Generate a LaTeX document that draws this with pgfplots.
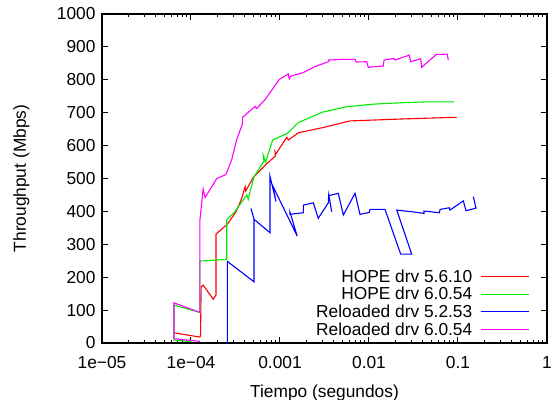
\documentclass[border=0pt]{standalone}
\usepackage{fontspec}
\setmainfont{Liberation Sans}
\usepackage{pgfplots}
\pgfplotsset{compat=1.18}
\definecolor{gred}{RGB}{255,0,0}
\definecolor{ggreen}{RGB}{0,235,0}
\definecolor{gblue}{RGB}{0,0,255}
\definecolor{gmag}{RGB}{255,0,255}
\newcommand{\gf}{\fontsize{17.4}{20}\selectfont}
\begin{document}
\begin{tikzpicture}
\begin{axis}[
  scale only axis, width=445bp, height=329bp,
  xmode=log, xmin=1e-5, xmax=1, ymin=0, ymax=1000,
  xtick={1e-5,1e-4,1e-3,1e-2,1e-1,1},
  xticklabels={1e−05,1e−04,0.001,0.01,0.1,1},
  ytick={0,100,...,1000},
  /pgf/number format/assume math mode=true,
  /pgf/number format/1000 sep={},
  tick label style={font=\gf},
  label style={font=\gf},
  xticklabel style={yshift=-10bp},
  yticklabel style={xshift=-3bp},
  axis line style={line width=1.6bp},
  major tick length=6bp, minor tick length=3bp,
  every tick/.style={line width=1bp, black},
  xlabel={Tiempo (segundos)},
  ylabel={Throughput (Mbps)},
  xlabel style={at={(axis description cs:0.5,0)}, anchor=base, yshift=-54bp},
  ylabel style={at={(axis description cs:-0.1708,0.5)}, anchor=base},
  legend style={draw=none, fill=none, font=\gf, at={(1,0)}, anchor=south east,
    xshift=-17.8bp, yshift=4.6bp, inner sep=0pt, outer sep=0pt,
    nodes={inner sep=1.8bp}, column sep=6bp, row sep=0bp},
  legend cell align=right,
  legend plot pos=right,
  legend image code/.code={\draw[#1] (0bp,0bp) -- (48bp,0bp);},
  every axis plot/.append style={line width=1.1bp},
]
\addplot[gred] coordinates {
(6.44e-5,31) (1.26e-4,18) (1.28e-4,24) (1.30e-4,170) (1.37e-4,176) (1.78e-4,133)
(1.91e-4,146) (1.91e-4,331) (2.58e-4,362) (3.21e-4,399) (3.72e-4,440) (4.05e-4,475)
(4.12e-4,462) (5.0e-4,503) (6.97e-4,543) (8.85e-4,568) (8.8e-4,581) (9.0e-4,575)
(1.19e-3,625) (1.24e-3,617) (1.61e-3,639) (3.07e-3,655) (6.12e-3,675) (0.0122,678)
(0.0241,681) (0.0714,685) (0.0966,686)
};
\addlegendentry{HOPE drv 5.6.10}
\addplot[ggreen] coordinates {
(1.0e-4,4) (6.44e-5,9) (6.44e-5,115) (1.26e-4,93) (1.26e-4,249) (2.52e-4,254)
(2.52e-4,374) (3.12e-4,399) (4.23e-4,450) (4.40e-4,437) (5.11e-4,506) (6.6e-4,552)
(6.5e-4,570) (6.9e-4,550) (8.28e-4,617) (1.21e-3,637) (1.61e-3,670) (2.94e-3,701)
(5.61e-3,718) (0.0112,726) (0.0223,730) (0.0445,733) (0.0902,733)
};
\addlegendentry{HOPE drv 6.0.54}
\addplot[gblue] coordinates {
(2.56e-4,0) (2.56e-4,248) (5.11e-4,186) (5.11e-4,376) (4.72e-4,409) (5.11e-4,376)
(7.73e-4,335) (7.73e-4,506) (9.02e-4,430) (8.28e-4,478) (1.56e-3,325) (1.29e-3,399)
(1.29e-3,391) (1.83e-3,396) (1.83e-3,419) (2.37e-3,426) (2.69e-3,379) (3.49e-3,426)
(3.53e-3,450) (3.81e-3,399) (3.55e-3,448) (4.52e-3,455) (5.15e-3,389) (6.97e-3,455)
(7.92e-3,391) (0.01007,397) (0.01026,406) (0.01514,406) (0.0227,270) (0.0302,270)
(0.0205,404) (0.0302,399) (0.0415,394) (0.0415,401) (0.0617,396) (0.0630,406)
(0.0798,411) (0.0813,404) (0.1148,432) (0.1230,402) (0.1592,410) (0.1486,445)
};
\addlegendentry{Reloaded drv 5.2.53}
\addplot[gmag] coordinates {
(1.26e-4,5) (6.44e-5,13) (6.44e-5,122) (1.26e-4,93) (1.26e-4,374) (1.37e-4,468)
(1.44e-4,442) (1.95e-4,500) (2.47e-4,512) (2.86e-4,556) (3.26e-4,618) (3.81e-4,668)
(3.81e-4,686) (5.24e-4,719) (5.47e-4,713) (6.77e-4,739) (9.82e-4,801) (1.24e-3,818)
(1.27e-3,803) (1.32e-3,811) (1.83e-3,822) (2.47e-3,840) (3.49e-3,855) (3.52e-3,860)
(4.93e-3,862) (6.97e-3,862) (7.19e-3,854) (9.42e-3,855) (9.82e-3,838) (0.01449,842)
(0.01476,860) (0.0191,865) (0.0196,860) (0.0284,875) (0.0294,855) (0.0381,864)
(0.0391,838) (0.0570,877) (0.0759,878) (0.0778,860)
};
\addlegendentry{Reloaded drv 6.0.54}
\end{axis}
\pgfresetboundingbox
\useasboundingbox (-102bp,-57bp) rectangle (457bp,343bp);
\end{tikzpicture}
\end{document}
